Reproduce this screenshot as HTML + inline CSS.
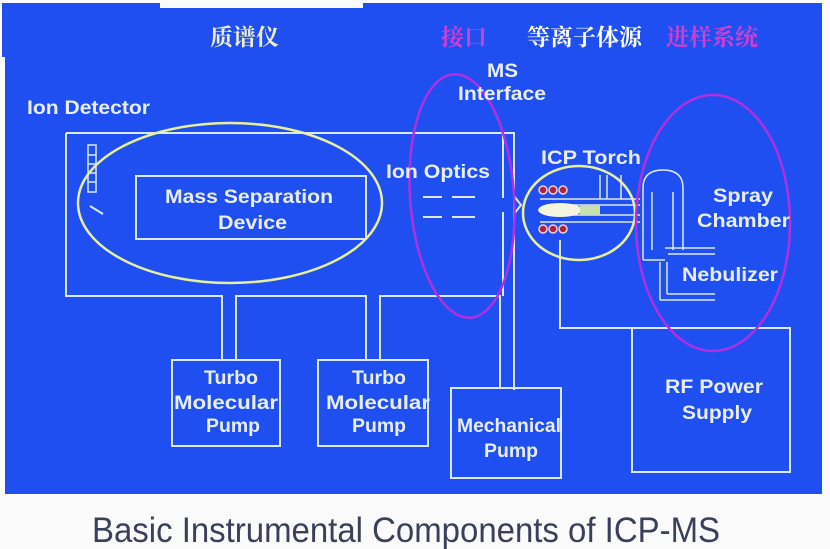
<!DOCTYPE html>
<html><head><meta charset="utf-8"><style>
html,body{margin:0;padding:0;background:#fff;}
svg{display:block;}
</style></head><body>
<svg width="830" height="549" viewBox="0 0 830 549" xmlns="http://www.w3.org/2000/svg">
<rect x="0" y="0" width="830" height="549" fill="#fbfbfb"/>
<rect x="2" y="3" width="820" height="54" fill="#1f4ff0"/>
<rect x="5" y="55" width="817" height="439" fill="#1f4ff0"/>
<rect x="160" y="0" width="203" height="8" fill="#fbfbfb"/>
<g font-family="'Liberation Serif','Noto Serif CJK SC',serif" font-weight="bold" font-size="23">
<text x="210" y="45" fill="#eeeec8">质谱仪</text>
<text x="441" y="45" fill="#d040d0">接口</text>
<text x="527" y="45" fill="#ffffff">等离子体源</text>
<text x="666" y="45" fill="#d040d0">进样系统</text>
</g>
<g fill="none" stroke="#dce8ff" stroke-width="2">
<path d="M66 133 H514 V390 M66 133 V296 H222 V360 M236 360 V296 H366 V360 M380 360 V296 H500 V388 M503 133 V198 M503 212 V296"/>
<rect x="172" y="360" width="108" height="86"/>
<rect x="318" y="360" width="110" height="86"/>
<rect x="451" y="388" width="110" height="90"/>
<rect x="632" y="328" width="158" height="144"/>
<path d="M560 240 V328 H632"/>
<rect x="136" y="176" width="230" height="63"/>
<rect x="88" y="145" width="8" height="47" stroke-width="1.5"/>
<path d="M88 155 H96 M88 164 H96 M88 173 H96 M88 182 H96" stroke-width="1.5"/>
<path d="M90 206 L103 214"/>
<path d="M423 197 H442 M452 197 H475 M423 217 H442 M452 217 H475"/>
<path d="M514 196 L521 205 L514 214"/>
<path d="M540 199 H640 M548 205 H640 M548 215 H640 M540 222 H640" stroke-width="1.5"/>
<path d="M600 175 V199 M607 175 V199 M621 175 V199" stroke-width="1.5"/>
<path d="M643 260 V188 Q643 170 663 170 Q683 170 683 188 V250" stroke-width="1.5"/>
<path d="M652 250 V192 M673 250 V192" stroke-width="1.5"/>
<path d="M643 260 H665 M665 248 H715 M668 254 H715 M660 300 V262 M660 300 H715 M667 294 V262 M667 294 H715" stroke-width="1.5"/>
</g>
<ellipse cx="560" cy="210" rx="22" ry="7" fill="#f4f4e0"/>
<path d="M580 205 H600 V215 H580 Z" fill="#c8e0b0"/>
<g fill="#b02040" stroke="#f0d0d0" stroke-width="1.5">
<circle cx="543" cy="190" r="4"/><circle cx="553" cy="190" r="4"/><circle cx="563" cy="190" r="4"/>
<circle cx="543" cy="229" r="4"/><circle cx="553" cy="229" r="4"/><circle cx="563" cy="229" r="4"/>
</g>
<g fill="none" stroke-width="2.5">
<ellipse cx="230" cy="203" rx="152" ry="80" stroke="#e8f0a0"/>
<ellipse cx="579" cy="213" rx="56" ry="47" stroke="#e8f0a0"/>
<ellipse cx="462" cy="196" rx="52" ry="122" stroke="#b030e0" transform="rotate(-4 462 196)"/>
<ellipse cx="713" cy="223" rx="77" ry="128" stroke="#b030e0"/>
</g>
<g font-family="'Liberation Sans',sans-serif" font-weight="bold" font-size="19" fill="#e8eeff" lengthAdjust="spacingAndGlyphs">
<text x="27" y="114" textLength="123" lengthAdjust="spacingAndGlyphs">Ion Detector</text>
<text x="487" y="77" textLength="31" lengthAdjust="spacingAndGlyphs">MS</text>
<text x="458" y="100" textLength="88" lengthAdjust="spacingAndGlyphs">Interface</text>
<text x="386" y="178" textLength="104" lengthAdjust="spacingAndGlyphs">Ion Optics</text>
<text x="541" y="164" textLength="100" lengthAdjust="spacingAndGlyphs">ICP Torch</text>
<text x="713" y="202" textLength="60" lengthAdjust="spacingAndGlyphs">Spray</text>
<text x="697" y="227" textLength="93" lengthAdjust="spacingAndGlyphs">Chamber</text>
<text x="682" y="281" textLength="96" lengthAdjust="spacingAndGlyphs">Nebulizer</text>
<text x="165" y="203" textLength="168" lengthAdjust="spacingAndGlyphs">Mass Separation</text>
<text x="218" y="229" textLength="69" lengthAdjust="spacingAndGlyphs">Device</text>
<text x="665" y="393" textLength="98" lengthAdjust="spacingAndGlyphs">RF Power</text>
<text x="682" y="419" textLength="70" lengthAdjust="spacingAndGlyphs">Supply</text>
</g>
<g font-family="'Liberation Sans',sans-serif" font-weight="bold" font-size="19" fill="#e8eeff">
<text x="204" y="384" textLength="54" lengthAdjust="spacingAndGlyphs">Turbo</text><text x="174" y="409" textLength="104" lengthAdjust="spacingAndGlyphs">Molecular</text><text x="206" y="432" textLength="54" lengthAdjust="spacingAndGlyphs">Pump</text>
<text x="352" y="384" textLength="54" lengthAdjust="spacingAndGlyphs">Turbo</text><text x="326" y="409" textLength="104" lengthAdjust="spacingAndGlyphs">Molecular</text><text x="352" y="432" textLength="54" lengthAdjust="spacingAndGlyphs">Pump</text>
<text x="457" y="432" textLength="104" lengthAdjust="spacingAndGlyphs">Mechanical</text><text x="484" y="457" textLength="54" lengthAdjust="spacingAndGlyphs">Pump</text>
</g>
<text x="92" y="542" font-family="'Liberation Sans',sans-serif" font-size="35" fill="#3a3f5a" textLength="628" lengthAdjust="spacingAndGlyphs">Basic Instrumental Components of ICP-MS</text>
</svg>
</body></html>
